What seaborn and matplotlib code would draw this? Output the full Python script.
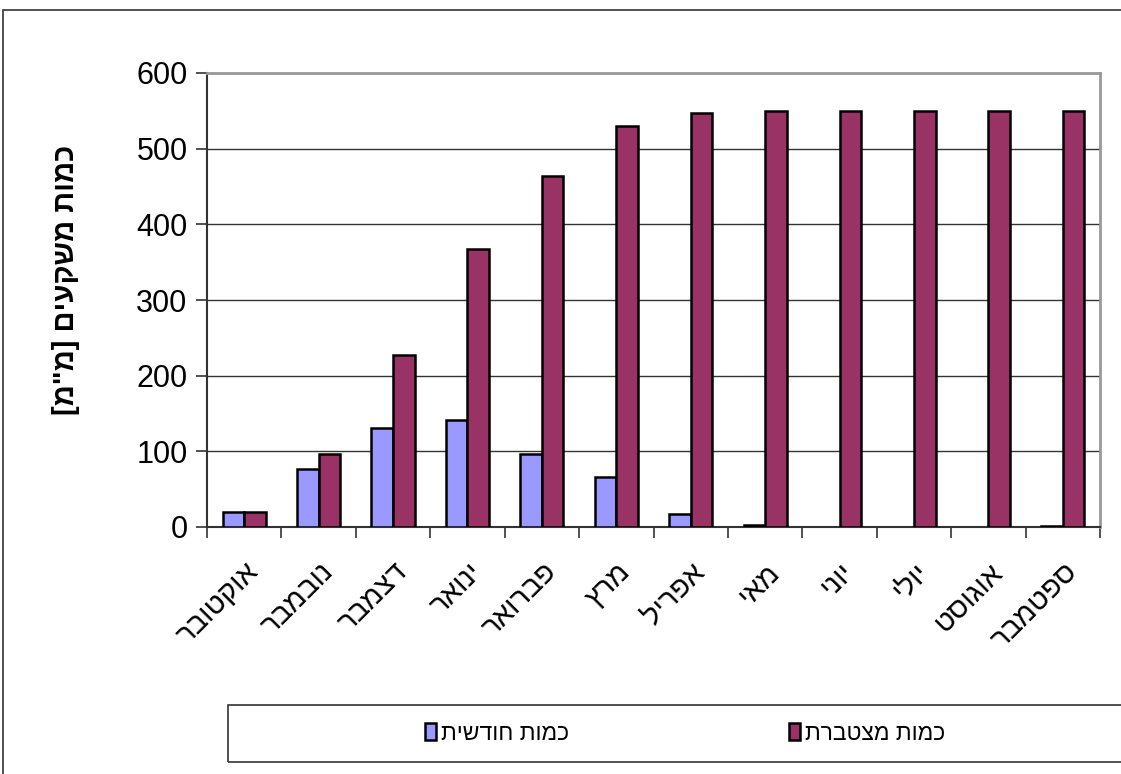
import numpy as np
import pandas as pd
import matplotlib
matplotlib.use("Agg")
import matplotlib.pyplot as plt
import seaborn as sns
from matplotlib.patches import Patch, Rectangle

# Data (Hebrew hydrological year months)
months = ["אוקטובר", "נובמבר", "דצמבר", "ינואר", "פברואר", "מרץ",
          "אפריל", "מאי", "יוני", "יולי", "אוגוסט", "ספטמבר"]
monthly = [20, 77, 131, 141, 96, 66, 17, 2, 0, 0, 0, 1]
cumulative = [20, 96, 227, 367, 464, 530, 547, 550, 550, 550, 550, 550]
series_names = ["כמות חודשית", "כמות מצטברת"]
y_label = 'כמות משקעים [מ"מ]'
y_ticks = [0, 100, 200, 300, 400, 500, 600]

def vis(s):
    # simple visual reordering for RTL text (matplotlib has no bidi)
    mirror = {"[": "]", "]": "[", "(": ")", ")": "("}
    return "".join(mirror.get(c, c) for c in s[::-1])

sns.set_theme(style="white")
plt.rcParams["font.family"] = ["Liberation Sans", "DejaVu Sans"]
plt.rcParams["text.color"] = "black"
plt.rcParams["xtick.color"] = "black"
plt.rcParams["ytick.color"] = "black"
plt.rcParams["axes.labelcolor"] = "black"

df = pd.DataFrame({
    "month": months * 2,
    "value": monthly + cumulative,
    "series": [series_names[0]] * 12 + [series_names[1]] * 12,
})

fig = plt.figure(figsize=(11.21, 7.74), dpi=100)
ax = fig.add_axes([207 / 1121, 1 - 527 / 774, (1100 - 207) / 1121, (527 - 73) / 774])

colors = ["#9999FF", "#993366"]
sns.barplot(data=df, x="month", y="value", hue="series", order=months,
            hue_order=series_names, palette=colors, saturation=1, width=0.58,
            gap=0, edgecolor="black", linewidth=1.8, ax=ax, legend=False,
            zorder=3)
for p in ax.patches:
    if p.get_height() == 0:
        p.set_visible(False)

ax.set_ylim(0, 600)
ax.set_xlim(-0.5, 11.5)
ax.set_yticks(y_ticks)
ax.set_yticklabels([str(v) for v in y_ticks], fontsize=22)
ax.yaxis.grid(True, color="#333333", linewidth=1, zorder=0)
ax.set_axisbelow(True)

ax.set_xticks(range(12))
ax.set_xticklabels([vis(m) for m in months], rotation=45, ha="right",
                   rotation_mode="anchor", fontsize=21)
ax.tick_params(axis="x", which="major", length=0, pad=22)
ax.set_xticks(np.arange(-0.5, 12, 1), minor=True)
ax.tick_params(axis="x", which="minor", length=8, width=1.2, color="#333333",
               direction="out", bottom=True)
ax.tick_params(axis="y", length=8, width=1.2, color="#333333", direction="out",
               left=True, pad=6)
ax.set_xlabel("")
ax.set_ylabel(vis(y_label), fontsize=21, fontweight="bold")
ax.yaxis.set_label_coords(-0.142, 0.544)

for s in ["left", "bottom"]:
    ax.spines[s].set_color("#333333")
    ax.spines[s].set_linewidth(1.5)
for s in ["top", "right"]:
    ax.spines[s].set_color("#999999")
    ax.spines[s].set_linewidth(2)

# outer chart frame
fig.patches.append(Rectangle((3 / 1121, -0.1), 1.2, 1 - 10 / 774 + 0.1,
                             transform=fig.transFigure, fill=False,
                             edgecolor="#333333", linewidth=1.2))
# legend box
fig.patches.append(Rectangle((228 / 1121, 1 - 762 / 774), 1.0, 57 / 774,
                             transform=fig.transFigure, fill=False,
                             edgecolor="#333333", linewidth=1.2))

handles = [Patch(facecolor=c, edgecolor="black", linewidth=1.8) for c in colors]
leg = fig.legend(handles, [vis(n) for n in series_names], ncol=2,
                 loc="center", bbox_to_anchor=(685 / 1121, 1 - 733 / 774),
                 frameon=False, fontsize=16.5, handlelength=0.5, handleheight=0.7,
                 handletextpad=0.2, columnspacing=9.6, borderaxespad=0)

fig.savefig("out.png", dpi=100)
